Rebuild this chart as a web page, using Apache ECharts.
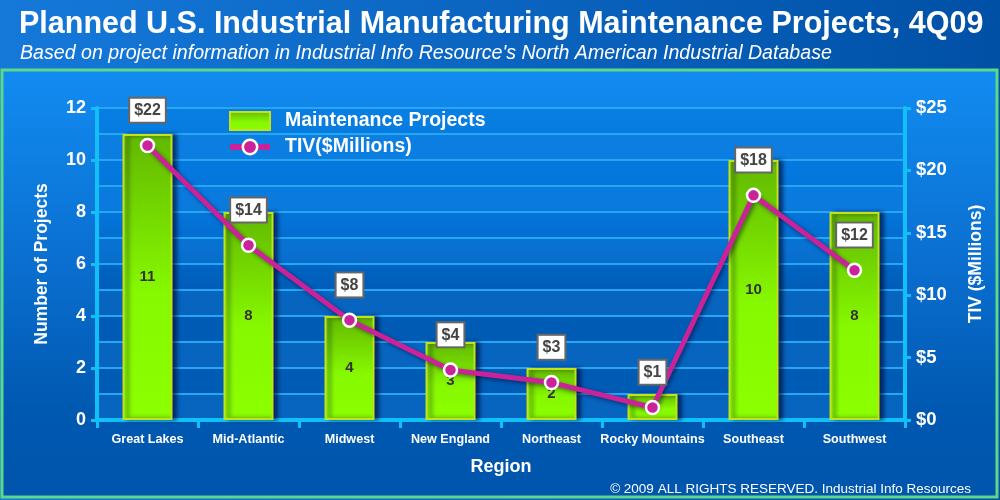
<!DOCTYPE html>
<html>
<head>
<meta charset="utf-8">
<script src="https://cdn.jsdelivr.net/npm/echarts@6/dist/echarts.min.js"></script>
<style>html,body{margin:0;padding:0;background:#0055aa;}#c{width:1000px;height:500px;}</style>
</head>
<body>
<div id="c"></div>
<script>
const categories = ['Great Lakes','Mid-Atlantic','Midwest','New England','Northeast','Rocky Mountains','Southeast','Southwest'];
const projects = [11, 8, 4, 3, 2, 1, 10, 8];
const tiv = [22, 14, 8, 4, 3, 1, 18, 12];
const leftTicks = [0, 2, 4, 6, 8, 10, 12];
const rightTicks = [0, 5, 10, 15, 20, 25];

const chart = echarts.init(document.getElementById('c'), null, {renderer:'canvas'});
const font = 'Liberation Sans, Arial, sans-serif';
const axisCyan = '#12c0f8';
const gridLine = '#27a6f2';

const option = {
  backgroundColor: 'transparent',
  animation: false,
  graphic: [
    {type:'rect', z:-10, shape:{x:0,y:0,width:1000,height:500},
     style:{fill:new echarts.graphic.LinearGradient(0,0,1,0,[{offset:0,color:'#1579da'},{offset:1,color:'#0050a6'}])}},
    {type:'rect', z:-9, shape:{x:2,y:70,width:995,height:427},
     style:{fill:new echarts.graphic.LinearGradient(0,0,0,1,[{offset:0,color:'#128cf2'},{offset:0.45,color:'#0a6fd0'},{offset:0.8,color:'#0058b0'},{offset:1,color:'#0055ac'}]),
            stroke:'#5cd88a', lineWidth:3}}
  ],
  title: [
    {text:'Planned U.S. Industrial Manufacturing Maintenance Projects, 4Q09', left:14, top:4,
     textStyle:{color:'#ffffff', fontFamily:font, fontWeight:'bold', fontSize:30.5}},
    {text:'Based on project information in Industrial Info Resource\'s North American Industrial Database', left:15, top:39,
     textStyle:{color:'#ffffff', fontFamily:font, fontStyle:'italic', fontWeight:'normal', fontSize:19.6}},
    {text:'© 2009 ALL RIGHTS RESERVED. Industrial Info Resources', right:24, top:477,
     textStyle:{color:'#ffffff', fontFamily:font, fontWeight:'normal', fontSize:13.5}}
  ],
  legend: {
    orient:'vertical', left:222, top:106, itemWidth:40, itemHeight:18, itemGap:6,
    textStyle:{color:'#ffffff', fontFamily:font, fontWeight:'bold', fontSize:19.5, padding:[0,0,0,10]},
    data:[{name:'Maintenance Projects', icon:'rect'},
          {name:'TIV($Millions)', lineStyle:{width:6, color:'#cc2299'}, itemStyle:{color:'#cc2299', borderColor:'#ffffff', borderWidth:2.5}}]
  },
  grid: {left:97, right:95, top:108, bottom:80, containLabel:false, show:true, borderWidth:0,
    backgroundColor:new echarts.graphic.LinearGradient(0,0,0,1,[{offset:0,color:'#0a8cf4'},{offset:0.35,color:'#0580e8'},{offset:0.6,color:'#0062bc'},{offset:1,color:'#0062bc'}])},
  xAxis: {
    type:'category', data:categories, boundaryGap:true,
    axisLine:{lineStyle:{color:axisCyan, width:4}},
    axisTick:{show:true, length:8, lineStyle:{color:axisCyan, width:3}, alignWithLabel:false},
    axisLabel:{color:'#ffffff', fontFamily:font, fontWeight:'bold', fontSize:12.6, margin:13, interval:0},
    name:'Region', nameLocation:'middle', nameGap:38,
    nameTextStyle:{color:'#ffffff', fontFamily:font, fontWeight:'bold', fontSize:18}
  },
  yAxis: [
    {type:'value', min:0, max:12, interval:2, position:'left',
     axisLine:{show:true, lineStyle:{color:axisCyan, width:4}},
     axisTick:{show:true, length:6, lineStyle:{color:axisCyan, width:3}},
     axisLabel:{color:'#ffffff', fontFamily:font, fontWeight:'bold', fontSize:18, margin:11,
       formatter:v => leftTicks.includes(v) ? String(v) : ''},
     splitLine:{show:false},
     name:'Number of Projects', nameLocation:'middle', nameGap:46,
     nameTextStyle:{color:'#ffffff', fontFamily:font, fontWeight:'bold', fontSize:17.5}},
    {type:'value', min:0, max:25, interval:5, position:'right',
     axisLine:{show:true, lineStyle:{color:axisCyan, width:4}},
     axisTick:{show:true, length:6, lineStyle:{color:axisCyan, width:3}},
     axisLabel:{color:'#ffffff', fontFamily:font, fontWeight:'bold', fontSize:18.5, margin:11,
       formatter:v => rightTicks.includes(v) ? '$' + v : ''},
     splitLine:{show:false},
     name:'TIV ($Millions)', nameLocation:'middle', nameGap:62, nameRotate:90,
     nameTextStyle:{color:'#ffffff', fontFamily:font, fontWeight:'bold', fontSize:17.5}},
    {type:'value', min:0, max:12, interval:1, position:'left', show:true,
     axisLine:{show:false}, axisTick:{show:false}, axisLabel:{show:false},
     splitLine:{show:true, lineStyle:{color:gridLine, width:2}},
     splitArea:{show:true, areaStyle:{color:['rgba(20,110,200,0.35)','rgba(0,60,150,0.18)']}}}
  ],
  series: [
    {name:'Maintenance Projects', type:'bar', yAxisIndex:0, data:projects, barWidth:50, z:3,
     itemStyle:{
       color:new echarts.graphic.LinearGradient(0,0,0,1,[{offset:0,color:'#62b800'},{offset:0.55,color:'#86f800'},{offset:1,color:'#8cff00'}]),
       borderColor:'#c4e21a', borderWidth:2,
       shadowColor:'rgba(0,0,40,0.55)', shadowBlur:4, shadowOffsetX:4, shadowOffsetY:0},
     label:{show:true, position:'inside', color:'#333333', fontFamily:font, fontWeight:'bold', fontSize:15}},
    {name:'TIV($Millions)', type:'line', yAxisIndex:1, data:tiv, z:5,
     lineStyle:{color:'#cc2299', width:5, shadowColor:'rgba(0,0,40,0.5)', shadowBlur:4, shadowOffsetX:2, shadowOffsetY:2},
     symbol:'circle', symbolSize:13,
     itemStyle:{color:'#cc2299', borderColor:'#ffffff', borderWidth:2.5},
     label:{show:true, position:'top', distance:16, formatter:p => '$' + p.value,
       backgroundColor:'#ffffff', borderColor:'#666666', borderWidth:2, padding:[4,4,3,4],
       color:'#444444', fontFamily:font, fontWeight:'bold', fontSize:16}}
  ]
};
chart.setOption(option);
</script>
</body>
</html>
